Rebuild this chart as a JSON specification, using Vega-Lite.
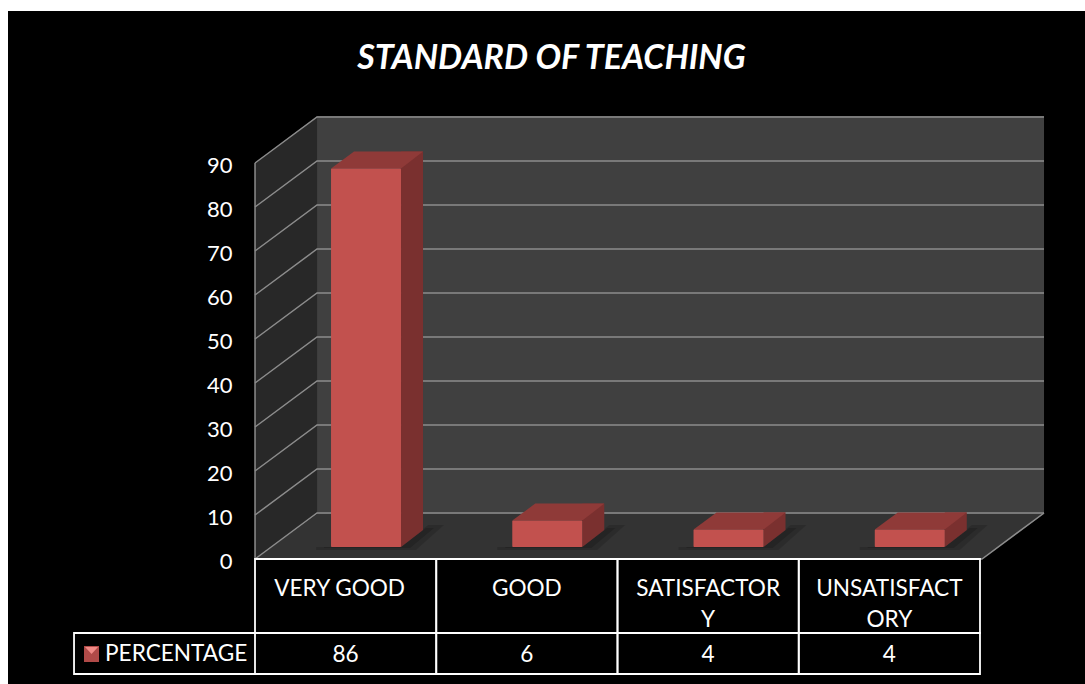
{
"$schema":"https://vega.github.io/schema/vega-lite/v6.json",
"width":1077,"height":673,
"autosize":{"type":"none"},
"padding":{"left":8,"top":11,"right":0,"bottom":0},
"background":"#ffffff",
"view":{"fill":"#000000","stroke":null},
"title":{"text":"STANDARD OF TEACHING","anchor":"middle","frame":"group","color":"#ffffff","font":"Lato","fontSize":34,"fontWeight":"bold","fontStyle":"italic","dy":69,"dx":5},
"datasets":{
"main":[
{"category":"VERY GOOD","percentage":86,"series":"PERCENTAGE"},
{"category":"GOOD","percentage":6,"series":"PERCENTAGE"},
{"category":"SATISFACTOR\nY","percentage":4,"series":"PERCENTAGE"},
{"category":"UNSATISFACT\nORY","percentage":4,"series":"PERCENTAGE"}],
"ticks":[{"tick":0},{"tick":10},{"tick":20},{"tick":30},{"tick":40},{"tick":50},{"tick":60},{"tick":70},{"tick":80},{"tick":90}]
},
"data":{"name":"main"},
"encoding":{
"x":{"field":"category","type":"nominal","sort":null,"axis":null,"scale":{"type":"band","range":[247,972],"paddingInner":0,"paddingOuter":0}}
},
"layer":[
{"data":{"name":"ticks"},"mark":{"type":"text","color":"#ffffff","font":"Lato","fontSize":22,"align":"right","baseline":"middle","xOffset":-113,"yOffset":2.5},
"encoding":{"x":{"datum":"VERY GOOD"},"y":{"field":"tick","type":"quantitative","axis":null,"scale":{"domain":[0,90],"range":[548,152],"nice":false,"zero":false}},"text":{"field":"tick"}}},
{"transform":[{"filter":"datum.category==='VERY GOOD'"}],"mark":{"type":"point","filled":true,"opacity":1,"size":4,"xOffset":-90.6,"shape":"M62,-45L789,-45L789,-443L62,-443Z","color":"#404040"},"encoding":{"y":{"datum":0,"type":"quantitative","axis":null}}},
{"transform":[{"filter":"datum.category==='VERY GOOD'"}],"mark":{"type":"point","filled":true,"opacity":1,"size":4,"xOffset":-90.6,"shape":"M0,0L62,-45L62,-443L0,-396Z","color":"#282828"},"encoding":{"y":{"datum":0,"type":"quantitative","axis":null}}},
{"transform":[{"filter":"datum.category==='VERY GOOD'"}],"mark":{"type":"point","filled":true,"opacity":1,"size":4,"xOffset":-90.6,"shape":"M0,0L62,-45L789,-45L727,0Z","color":"#333333"},"encoding":{"y":{"datum":0,"type":"quantitative","axis":null}}},
{"data":{"name":"ticks"},"mark":{"type":"point","filled":false,"opacity":1,"size":4,"xOffset":-90.6,"shape":"M0,0L62,-46L789,-46","stroke":"#8c8c8c","strokeWidth":1.5},
"encoding":{"x":{"datum":"VERY GOOD"},"y":{"field":"tick","type":"quantitative","axis":null}}},
{"transform":[{"filter":"datum.category==='VERY GOOD'"}],"mark":{"type":"point","filled":false,"opacity":1,"size":4,"xOffset":-90.6,"shape":"M0,-396L0,0L727,0L789,-46","stroke":"#8c8c8c","strokeWidth":1.5},"encoding":{"y":{"datum":0,"type":"quantitative","axis":null}}},
{"mark":{"type":"point","filled":true,"opacity":0.14,"size":4,"xOffset":20.4,"yOffset":-12,"shape":"M-50,0L35,0L62,-22L78,-22L50,3L-50,3Z","color":"#000000"},"encoding":{"y":{"datum":0,"type":"quantitative","axis":null}}},
{"mark":{"type":"point","filled":true,"opacity":0.16,"size":4,"xOffset":20.4,"yOffset":-12,"shape":"M-42,0L35,0L60,-19L68,-19L44,1L-42,1Z","color":"#000000"},"encoding":{"y":{"datum":0,"type":"quantitative","axis":null}}},
{"mark":{"type":"bar","width":22,"xOffset":66.4,"yOffset":-29,"y2Offset":-29,"color":"#7a302f"},"encoding":{"y":{"field":"percentage","type":"quantitative","stack":null,"axis":null},"y2":{"datum":0}}},
{"mark":{"type":"point","filled":true,"opacity":1,"size":4,"xOffset":20.4,"yOffset":-12,"shape":"M35,0L57,-17L35,-17Z","color":"#7a302f"},"encoding":{"y":{"datum":0,"type":"quantitative","axis":null}}},
{"mark":{"type":"point","filled":true,"opacity":1,"size":4,"xOffset":20.4,"yOffset":-12,"shape":"M-35,0L35,0L57,-17L-12,-17Z","color":"#8f3a38"},"encoding":{"y":{"field":"percentage","type":"quantitative","axis":null}}},
{"mark":{"type":"bar","width":70,"xOffset":20.4,"yOffset":-12,"y2Offset":-12,"color":"#c2514e","cornerRadius":1},"encoding":{"y":{"field":"percentage","type":"quantitative","stack":null,"axis":null},"y2":{"datum":0}}},
{"mark":{"type":"rect","fill":null,"stroke":"#ffffff","strokeWidth":1.8,"y2Offset":74},"encoding":{"y":{"datum":0,"type":"quantitative","axis":null},"y2":{"datum":0}}},
{"mark":{"type":"rect","fill":null,"stroke":"#ffffff","strokeWidth":1.8,"yOffset":74,"y2Offset":115},"encoding":{"y":{"datum":0,"type":"quantitative","axis":null},"y2":{"datum":0}}},
{"transform":[{"filter":"datum.category==='VERY GOOD'"}],"mark":{"type":"point","filled":false,"opacity":1,"size":4,"xOffset":-90.6,"shape":"M0,74L-181,74L-181,115L0,115","stroke":"#ffffff","strokeWidth":1.8},"encoding":{"y":{"datum":0,"type":"quantitative","axis":null}}},
{"transform":[{"filter":"datum.category==='VERY GOOD'"}],"mark":{"type":"point","filled":true,"opacity":1,"size":4,"xOffset":-90.6,"shape":"M-171,87L-156,87L-156,103L-171,103Z","color":"#b04a48"},"encoding":{"y":{"datum":0,"type":"quantitative","axis":null}}},
{"transform":[{"filter":"datum.category==='VERY GOOD'"}],"mark":{"type":"point","filled":true,"opacity":1,"size":4,"xOffset":-90.6,"shape":"M-170,88L-157,88L-163.5,95Z","color":"#f08a86"},"encoding":{"y":{"datum":0,"type":"quantitative","axis":null}}},
{"transform":[{"filter":"datum.category==='VERY GOOD'"}],"mark":{"type":"text","color":"#ffffff","font":"Lato","fontSize":22.6,"baseline":"top","align":"center","lineBreak":"\n","lineHeight":31,"yOffset":18.5,"xOffset":-6},"encoding":{"y":{"datum":0,"type":"quantitative","axis":null},"text":{"field":"category"}}},
{"transform":[{"filter":"datum.category!=='VERY GOOD'"}],"mark":{"type":"text","color":"#ffffff","font":"Lato","fontSize":22.6,"baseline":"top","align":"center","lineBreak":"\n","lineHeight":31,"yOffset":18.5},"encoding":{"y":{"datum":0,"type":"quantitative","axis":null},"text":{"field":"category"}}},
{"mark":{"type":"text","color":"#ffffff","font":"Lato","fontSize":22.6,"baseline":"middle","align":"center","yOffset":96},"encoding":{"y":{"datum":0,"type":"quantitative","axis":null},"text":{"field":"percentage"}}},
{"transform":[{"filter":"datum.category==='VERY GOOD'"}],"mark":{"type":"text","color":"#ffffff","font":"Lato","fontSize":22.6,"baseline":"middle","align":"left","xOffset":-240.6,"yOffset":95},"encoding":{"y":{"datum":0,"type":"quantitative","axis":null},"text":{"field":"series"}}}
]
}
